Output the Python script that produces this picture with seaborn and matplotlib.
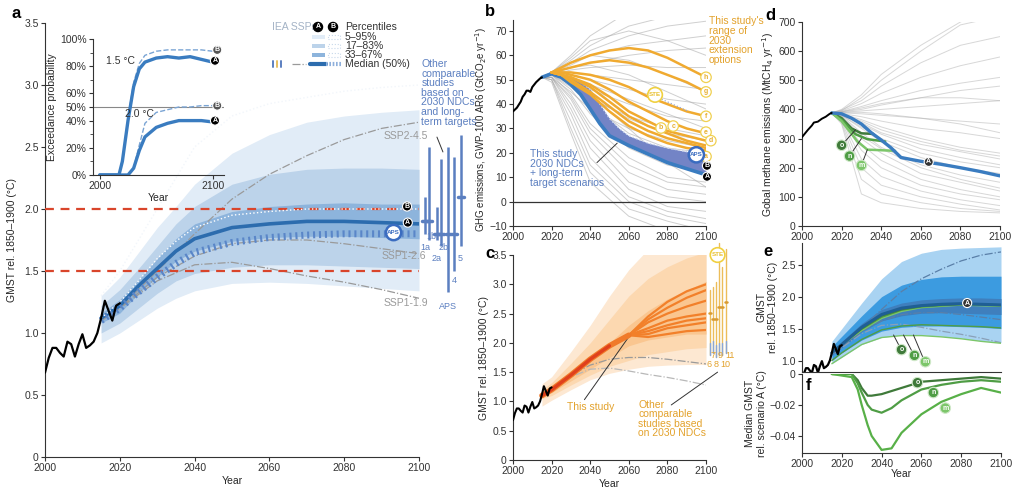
# -*- coding: utf-8 -*-
#%% Load dependencies
import pandas as pd
import numpy as np
import seaborn as sns
import matplotlib.pyplot as plt
from matplotlib.patches import Rectangle
from matplotlib.lines import Line2D

#%% data
histYears = list(range(2000, 2021))
histGMST = [0.68, 0.80, 0.88, 0.88, 0.84, 0.81, 0.93, 0.91, 0.81, 0.91, 0.99,
            0.88, 0.90, 0.93, 1.00, 1.12, 1.26, 1.18, 1.10, 1.22, 1.24]

# panel a, scenario A percentiles
aYears = [2015, 2020, 2025, 2030, 2035, 2040, 2050, 2060, 2070, 2080, 2090, 2100]
aP5 = [0.92, 1.00, 1.10, 1.20, 1.28, 1.34, 1.40, 1.41, 1.40, 1.38, 1.36, 1.34]
aP95 = [1.30, 1.45, 1.65, 1.85, 2.02, 2.20, 2.45, 2.60, 2.70, 2.75, 2.78, 2.80]
aP17 = [1.00, 1.08, 1.20, 1.32, 1.42, 1.48, 1.53, 1.55, 1.55, 1.54, 1.53, 1.52]
aP83 = [1.22, 1.35, 1.52, 1.70, 1.88, 2.02, 2.20, 2.28, 2.32, 2.33, 2.33, 2.32]
aP33 = [1.08, 1.16, 1.32, 1.45, 1.58, 1.66, 1.74, 1.77, 1.78, 1.78, 1.77, 1.76]
aP67 = [1.16, 1.27, 1.43, 1.60, 1.76, 1.88, 1.98, 2.02, 2.04, 2.05, 2.04, 2.04]
aP50 = [1.12, 1.22, 1.38, 1.52, 1.66, 1.76, 1.85, 1.88, 1.90, 1.90, 1.89, 1.88]
# scenario B (dotted outlines) and APS
aB67 = [1.12, 1.25, 1.42, 1.60, 1.74, 1.85, 1.95, 1.98, 2.00, 2.00, 2.00, 2.00]
aB95 = [1.30, 1.50, 1.75, 2.00, 2.25, 2.50, 2.75, 2.85, 2.90, 2.95, 2.98, 3.00]
aAPS = [1.10, 1.20, 1.33, 1.45, 1.56, 1.65, 1.73, 1.77, 1.79, 1.80, 1.80, 1.80]

sspYears = [2015, 2020, 2030, 2040, 2050, 2060, 2070, 2080, 2090, 2100]
ssp245 = [1.10, 1.20, 1.50, 1.80, 2.08, 2.28, 2.43, 2.56, 2.65, 2.70]
ssp126 = [1.10, 1.20, 1.45, 1.62, 1.72, 1.75, 1.75, 1.72, 1.68, 1.64]
ssp119 = [1.10, 1.20, 1.42, 1.55, 1.57, 1.52, 1.46, 1.41, 1.35, 1.28]

# other studies (panel a), top / bottom / marker
studyLabelsA = ['1a', '1b', '2a', '2b', 'APS', '4', '5']
studyTopA = [2.10, 2.50, 2.02, 2.40, 2.50, 2.42, 2.60]
studyBotA = [1.80, 1.75, 1.75, 1.70, 1.33, 1.50, 1.70]
studyMidA = [1.90, 1.90, 1.80, 1.80, 1.80, 1.80, 2.10]

# inset exceedance probability
inYears = [2000, 2017, 2020, 2025, 2030, 2035, 2040, 2050, 2060, 2070, 2080, 2090, 2100]
ex15A = [0, 0, 10, 40, 65, 78, 83, 86, 87, 86, 87, 85, 83]
ex15B = [0, 0, 11, 42, 68, 82, 88, 91, 92, 92, 92, 92, 91]
ex20A = [0, 0, 0, 0, 5, 18, 28, 35, 38, 40, 40, 40, 39]
ex20B = [0, 0, 0, 0, 5, 22, 38, 46, 48, 50, 50, 51, 51]

# panel b emissions (GtCO2e/yr)
bHistYears = [2000, 2002, 2004, 2005, 2006, 2007, 2008, 2009, 2010, 2012, 2014, 2015]
bHist = [37, 38.5, 41, 43, 44, 45.5, 45.5, 45, 47, 49, 50.5, 51]
greyYears = [2015, 2020, 2030, 2040, 2060, 2080, 2100]
bGrey = [[51, 53, 60, 68, 78, 85, 90], [51, 53, 58, 64, 72, 76, 78],
         [51, 53, 57, 62, 68, 72, 74], [51, 53, 56, 60, 64, 66, 68],
         [51, 53, 55, 57, 60, 62, 63], [51, 52, 54, 55, 56, 55, 55],
         [51, 52, 53, 52, 50, 48, 46], [51, 52, 52, 50, 46, 42, 40],
         [51, 52, 50, 46, 40, 35, 33], [51, 52, 49, 43, 34, 28, 25],
         [51, 52, 48, 40, 28, 22, 20], [51, 52, 46, 36, 22, 15, 12],
         [51, 52, 44, 32, 18, 10, 8], [51, 51, 42, 28, 12, 5, 3],
         [51, 51, 40, 25, 8, 2, 0], [51, 51, 38, 22, 5, -2, -4],
         [51, 50, 36, 18, 2, -4, -7], [51, 50, 33, 15, 0, -6, -9],
         [51, 50, 30, 12, -3, -8, -12], [51, 49, 28, 8, -6, -12, -15],
         [51, 51, 45, 38, 30, 25, 22], [51, 52, 47, 42, 35, 30, 27],
         [51, 52, 51, 48, 42, 36, 30], [51, 52, 55, 56, 52, 45, 38],
         [51, 53, 57, 60, 58, 52, 45], [51, 53, 59, 66, 70, 66, 60],
         [51, 52, 50, 44, 30, 16, 6], [51, 51, 43, 30, 15, 8, 6]]
bOrangeYears = [2020, 2025, 2030, 2040, 2050, 2060, 2070, 2080, 2090, 2100]
bOrange = {'h': [53, 55, 57, 60, 62, 63, 62, 59, 55, 51],
           'g': [53, 54, 55, 57, 58, 57, 55, 52, 49, 45],
           'f': [53, 53, 53, 52, 50, 47, 43, 40, 37, 35],
           'e': [53, 53, 52, 50, 46, 41, 37, 33, 30, 28],
           'd': [53, 52, 51, 48, 43, 37, 33, 29, 27, 25],
           'c': [53, 52, 51, 47, 41, 35, 31, 28, 25, 23],
           'b': [53, 52, 50, 45, 39, 33, 29, 26, 24, 22],
           'a': [53, 52, 49, 44, 37, 31, 27, 24, 22, 21]}
bBlueYears = [2015, 2020, 2025, 2030, 2035, 2040, 2045, 2050, 2055, 2060, 2070, 2080, 2090, 2100]
bA = [51, 52.5, 51, 48, 44, 38, 32, 27, 25, 23, 19.5, 16, 13.5, 11]
bB = [51, 52.5, 52, 51, 49, 46, 40, 34, 30, 27, 24, 22, 20.5, 19.5]

# panel c warming fan
cYears = [2015, 2020, 2030, 2040, 2050, 2060, 2070, 2080, 2090, 2100]
cP5 = [0.92, 1.02, 1.20, 1.37, 1.48, 1.55, 1.60, 1.62, 1.63, 1.63]
cP95 = [1.30, 1.42, 1.85, 2.30, 2.80, 3.25, 3.60, 3.80, 4.00, 4.10]
cP17 = [1.05, 1.10, 1.28, 1.45, 1.60, 1.70, 1.80, 1.85, 1.90, 1.92]
cP83 = [1.20, 1.32, 1.65, 2.00, 2.40, 2.80, 3.10, 3.30, 3.45, 3.55]
cP33 = [1.10, 1.15, 1.35, 1.55, 1.75, 1.95, 2.05, 2.10, 2.15, 2.15]
cP67 = [1.15, 1.25, 1.50, 1.75, 2.00, 2.30, 2.55, 2.75, 2.90, 3.05]
cTrunkYears = [2015, 2020, 2030, 2040, 2050, 2060]
cTrunk = [1.10, 1.20, 1.45, 1.72, 1.95, 2.13]
cTailYears = [2070, 2080, 2090, 2100]
cTails = [[2.45, 2.70, 2.88, 3.00], [2.40, 2.60, 2.77, 2.90],
          [2.35, 2.50, 2.62, 2.72], [2.25, 2.38, 2.45, 2.50],
          [2.20, 2.30, 2.38, 2.42], [2.15, 2.25, 2.30, 2.35],
          [2.10, 2.15, 2.20, 2.22]]
studyLabelsC = ['6', '7', '8', '9', '10', '11']
studyTopC = [2.90, 2.95, 3.04, 3.70, 3.30, 3.60]
studyBotC = [1.79, 1.83, 1.76, 1.79, 1.79, 1.83]
studyMidC = [2.51, 2.41, 2.41, 2.61, 2.61, 2.70]

# panel d methane (MtCH4/yr)
dHistYears = [2000, 2003, 2005, 2006, 2008, 2010, 2012, 2014, 2015]
dHist = [305, 330, 345, 355, 358, 368, 375, 385, 388]
dGrey = [[388, 400, 450, 520, 620, 700, 760], [388, 398, 430, 480, 560, 620, 650],
         [388, 395, 420, 455, 510, 550, 580], [388, 393, 410, 430, 465, 490, 510],
         [388, 392, 400, 415, 440, 465, 480], [388, 390, 395, 400, 410, 420, 430],
         [388, 388, 385, 380, 370, 360, 350], [388, 386, 375, 360, 335, 320, 300],
         [388, 385, 365, 340, 300, 270, 250], [388, 383, 350, 315, 265, 235, 210],
         [388, 380, 335, 290, 235, 200, 180], [388, 378, 320, 270, 210, 175, 150],
         [388, 375, 300, 250, 180, 150, 120], [388, 372, 280, 225, 160, 125, 100],
         [388, 370, 260, 200, 140, 110, 90], [388, 365, 230, 170, 120, 90, 70],
         [388, 360, 200, 140, 100, 75, 55], [388, 355, 160, 110, 80, 60, 50],
         [388, 350, 110, 80, 60, 50, 45], [388, 390, 390, 385, 370, 350, 320],
         [388, 392, 405, 420, 440, 440, 430], [388, 385, 360, 330, 290, 260, 240],
         [388, 380, 340, 300, 250, 220, 200], [388, 396, 440, 500, 600, 690, 720],
         [388, 384, 355, 320, 280, 255, 230], [388, 376, 310, 265, 200, 160, 130]]
dBlueYears = [2015, 2020, 2025, 2030, 2035, 2040, 2045, 2050, 2060, 2070, 2080, 2090, 2100]
dBlue = [388, 385, 370, 350, 320, 295, 268, 235, 222, 212, 200, 187, 172]
dGreenYears = {'o': [2015, 2020, 2025, 2030, 2036],
               'n': [2015, 2020, 2027, 2033, 2042],
               'm': [2015, 2020, 2028, 2033, 2047]}
dGreen = {'o': [388, 370, 335, 318, 316],
          'n': [388, 365, 315, 298, 290],
          'm': [388, 360, 290, 262, 258]}

# panel e / f
eYears = [2015, 2020, 2030, 2040, 2050, 2060, 2070, 2080, 2090, 2100]
eP5 = [0.95, 1.05, 1.25, 1.36, 1.40, 1.40, 1.38, 1.35, 1.31, 1.28]
eP95 = [1.30, 1.50, 1.90, 2.28, 2.55, 2.68, 2.74, 2.76, 2.77, 2.78]
eP17 = [1.00, 1.12, 1.32, 1.46, 1.52, 1.54, 1.54, 1.53, 1.52, 1.50]
eP83 = [1.22, 1.38, 1.70, 2.00, 2.18, 2.27, 2.31, 2.32, 2.32, 2.32]
eP33 = [1.08, 1.20, 1.45, 1.62, 1.70, 1.74, 1.75, 1.74, 1.73, 1.72]
eP67 = [1.16, 1.30, 1.58, 1.80, 1.90, 1.95, 1.97, 1.98, 1.98, 1.97]
eP50 = [1.12, 1.25, 1.52, 1.72, 1.82, 1.86, 1.88, 1.89, 1.88, 1.87]
eGreen = {'o': [1.12, 1.25, 1.50, 1.70, 1.80, 1.85, 1.87, 1.88, 1.88, 1.87],
          'n': [1.12, 1.25, 1.49, 1.68, 1.79, 1.84, 1.86, 1.88, 1.87, 1.86],
          'm': [1.12, 1.25, 1.47, 1.66, 1.77, 1.83, 1.85, 1.87, 1.86, 1.85]}
eGreenLow = [0.95, 1.05, 1.25, 1.36, 1.39, 1.39, 1.37, 1.34, 1.30, 1.27]
eGreenP17 = [1.00, 1.12, 1.33, 1.48, 1.54, 1.56, 1.55, 1.54, 1.53, 1.51]

fYears = [2015, 2025, 2028, 2030, 2033, 2035, 2040, 2045, 2050, 2060, 2070, 2080, 2090, 2100]
fO = [0, 0, -0.004, -0.009, -0.014, -0.014, -0.013, -0.011, -0.009, -0.005, -0.004, -0.003, -0.002, -0.003]
fN = [0, 0, -0.006, -0.012, -0.020, -0.023, -0.025, -0.022, -0.017, -0.010, -0.007, -0.005, -0.004, -0.005]
fM = [0, -0.002, -0.010, -0.020, -0.033, -0.040, -0.049, -0.048, -0.038, -0.026, -0.018, -0.013, -0.009, -0.012]

#%% Plot settings
sns.set_style('ticks')
plt.rcParams['font.family'] = ['Liberation Sans', 'DejaVu Sans']
plt.rcParams['axes.edgecolor'] = '#333333'
plt.rcParams['xtick.color'] = '#333333'
plt.rcParams['ytick.color'] = '#333333'
fs = 7.5

blueBand = ['#e1ecf7', '#bcd3ea', '#8db4dc']
blueMed = '#2c6cae'
studyBlue = '#5b7fc0'
orange = '#f0aa30'
orangeTxt = '#e3a22c'
greens = {'o': '#3f7a3a', 'n': '#4f9d45', 'm': '#7cc66a'}
greyLine = '#9a9a9a'

fig = plt.figure(figsize=(10.24, 4.88), dpi=100)


def pos(l, t, r, b):
    return [l / 1024, 1 - b / 488, (r - l) / 1024, (b - t) / 488]


def line(ax, x, y, **kw):
    sns.lineplot(x=x, y=y, ax=ax, legend=False, errorbar=None, sort=False, **kw)


def spaghetti(ax, years, runs, color, lw=0.6, alpha=0.5):
    df = pd.DataFrame([(i, yr, v) for i, r in enumerate(runs) for yr, v in zip(years, r)],
                      columns=['run', 'year', 'val'])
    sns.lineplot(data=df, x='year', y='val', units='run', estimator=None, color=color,
                 lw=lw, alpha=alpha, ax=ax, legend=False)


def circ(ax, x, y, s, fc='black', ec='white', tc='white', size=5, pad=0.15, lw=0.8, z=12):
    ax.text(x, y, s, ha='center', va='center', fontsize=size, color=tc, fontweight='bold',
            bbox=dict(boxstyle='circle,pad=%s' % pad, fc=fc, ec=ec, lw=lw), clip_on=False, zorder=z)


def style(ax):
    ax.tick_params(labelsize=fs, length=3, width=0.8, pad=1.5)
    for s in ['top', 'right']:
        ax.spines[s].set_visible(False)
    ax.set_xlabel('')
    ax.set_ylabel('')


#%% panel a
axa = fig.add_axes(pos(45, 23, 419, 457))
axa.fill_between(aYears, aP5, aP95, color=blueBand[0], lw=0)
axa.fill_between(aYears, aP17, aP83, color=blueBand[1], lw=0)
axa.fill_between(aYears, aP33, aP67, color=blueBand[2], lw=0)
line(axa, aYears, aB95, color='#f2f6fb', lw=1, linestyle=':')
line(axa, sspYears, ssp245, color=greyLine, lw=0.9, linestyle='-.')
line(axa, sspYears, ssp126, color=greyLine, lw=0.9, linestyle='-.')
line(axa, sspYears, ssp119, color=greyLine, lw=0.9, linestyle='-.')
axa.axhline(2.0, color='#d9452b', lw=1.6, ls=(0, (4, 3)), zorder=4)
axa.axhline(1.5, color='#d9452b', lw=1.6, ls=(0, (4, 3)), zorder=4)
line(axa, aYears, aP50, color=blueMed, lw=2.6, zorder=5)
line(axa, aYears, aAPS, color='#5a86c8', lw=5, linestyle=(0, (0.3, 0.55)), zorder=5)
line(axa, aYears, aB67, color='white', lw=1, linestyle=':', zorder=6)
line(axa, histYears, histGMST, color='black', lw=1.6, zorder=7)

# other studies bars to the right
barXA = [2101.6, 2102.7, 2104.8, 2105.9, 2107.8, 2109.4, 2111.2]
for xb, t, bt, m in zip(barXA, studyTopA, studyBotA, studyMidA):
    axa.plot([xb, xb], [bt, t], color=studyBlue, lw=1.8, clip_on=False, solid_capstyle='butt')
    axa.plot([xb - 0.7, xb + 0.7], [m, m], color=studyBlue, lw=2.5, clip_on=False)
labPosA = [(2101.8, 1.69), (2103.3, 1.78), (2104.6, 1.60), (2106.5, 1.69), (2107.8, 1.21), (2109.4, 1.42), (2111.0, 1.60)]
for lab, (xl, yl) in zip(studyLabelsA, labPosA):
    axa.text(xl, yl, lab, fontsize=6.5, color=studyBlue, ha='center', va='center', clip_on=False)
axa.text(2100.6, 3.21, 'Other\ncomparable\nstudies\nbased on\n2030 NDCs\nand long-\nterm targets', fontsize=fs,
         color=studyBlue, ha='left', va='top', linespacing=0.95)
axa.plot([2104.8, 2106.4], [2.58, 2.46], color='#333333', lw=0.7, clip_on=False)

axa.text(2102.4, 2.59, 'SSP2-4.5', fontsize=fs, color=greyLine, ha='right', va='center')
axa.text(2102.0, 1.62, 'SSP1-2.6', fontsize=fs, color=greyLine, ha='right', va='center')
axa.text(2102.4, 1.24, 'SSP1-1.9', fontsize=fs, color=greyLine, ha='right', va='center')
circ(axa, 2096.8, 2.02, 'B')
circ(axa, 2097.0, 1.89, 'A')
circ(axa, 2093.2, 1.81, 'APS', fc='white', ec='#3a6cc0', tc='#3a6cc0', size=4.5, pad=0.2, lw=1.8)

axa.set_xlim(2000, 2100)
axa.set_ylim(0, 3.5)
axa.set_xticks(range(2000, 2101, 20))
axa.set_yticks([0, 0.5, 1.0, 1.5, 2.0, 2.5, 3.0, 3.5])
axa.set_yticklabels(['0', '0.5', '1.0', '1.5', '2.0', '2.5', '3.0', '3.5'])
style(axa)
axa.set_xlabel('Year', fontsize=fs, labelpad=2)
axa.set_ylabel('GMST rel. 1850\u20131900 (\u00b0C)', fontsize=fs)
axa.yaxis.set_label_coords(-0.075, 0.5)

#%% inset
axi = fig.add_axes(pos(93, 39, 224, 175))
axi.patch.set_alpha(0)
axi.axhline(50, color='#888888', lw=0.8, xmin=-0.0, xmax=1)
line(axi, inYears, ex15B, color='#7aa4d4', lw=1, linestyle='--')
line(axi, inYears, ex20B, color='#7aa4d4', lw=1, linestyle='--')
line(axi, inYears, ex15A, color='#3a7cc0', lw=2.4)
line(axi, inYears, ex20A, color='#3a7cc0', lw=2.4)
axi.text(2031, 84, '1.5 \u00b0C', fontsize=fs, color='#333333', ha='right', va='center')
axi.text(2035, 45, '2.0 \u00b0C', fontsize=fs, color='#333333', ha='center', va='center')
circ(axi, 2104, 92, 'B', fc='#555555')
circ(axi, 2102, 84, 'A')
circ(axi, 2104, 51, 'B', fc='#555555')
circ(axi, 2102, 40, 'A')
axi.set_xlim(1994, 2110)
axi.set_ylim(0, 100)
axi.set_xticks([2000, 2100])
axi.set_yticks([0, 20, 40, 50, 60, 80, 100])
axi.set_yticklabels(['0%', '20%', '40%', '50%', '60%', '80%', '100%'])
axi.set_yticks([10, 30, 70, 90], minor=True)
style(axi)
axi.tick_params(which='minor', length=2)
axi.set_xlabel('Year', fontsize=fs, labelpad=1)
axi.set_ylabel('Exceedance probability', fontsize=fs, labelpad=2)

#%% legend of panel a (figure coordinates)
def fx(x):
    return x / 1024


def fy(y):
    return 1 - y / 488


fig.text(fx(272), fy(27), 'IEA SSPs', fontsize=fs, color='#a4b3c6', va='center')
fig.text(fx(318), fy(27), 'A', fontsize=5, color='white', fontweight='bold', ha='center', va='center',
         bbox=dict(boxstyle='circle,pad=0.15', fc='black', ec='black'))
fig.text(fx(333), fy(27), 'B', fontsize=5, color='white', fontweight='bold', ha='center', va='center',
         bbox=dict(boxstyle='circle,pad=0.15', fc='black', ec='black'))
fig.text(fx(345), fy(27), 'Percentiles', fontsize=fs, color='#333333', va='center')
for yy, lab, c in zip([37, 46, 55], ['5\u201395%', '17\u201383%', '33\u201367%'], blueBand):
    fig.add_artist(Rectangle((fx(312), fy(yy + 2)), fx(13), 4 / 488, transform=fig.transFigure, fc=c, ec='none'))
    fig.add_artist(Rectangle((fx(328), fy(yy + 2)), fx(12), 4 / 488, transform=fig.transFigure, fc='none',
                             ec='#c8d8ea', ls=':', lw=0.8))
    fig.text(fx(345), fy(yy), lab, fontsize=fs, color='#333333', va='center')
fig.text(fx(345), fy(64), 'Median (50%)', fontsize=fs, color='#333333', va='center')
fig.add_artist(Line2D([fx(310), fx(326)], [fy(64), fy(64)], transform=fig.transFigure, color=blueMed, lw=3))
fig.add_artist(Line2D([fx(326), fx(341)], [fy(64), fy(64)], transform=fig.transFigure, color='#8fb0dc', lw=3,
                      ls=(0, (0.4, 0.4))))
fig.add_artist(Line2D([fx(292), fx(306)], [fy(64), fy(64)], transform=fig.transFigure, color=greyLine, lw=0.9,
                      ls='-.'))
for xx, c in zip([273, 277, 281], [studyBlue, '#e8c060', studyBlue]):
    fig.add_artist(Line2D([fx(xx), fx(xx)], [fy(61), fy(67)], transform=fig.transFigure, color=c, lw=1.4))

#%% panel b
axb = fig.add_axes(pos(513, 20, 706, 226))
spaghetti(axb, greyYears, bGrey, '#a8a8a8', lw=0.7, alpha=0.55)
axb.axhline(0, color='#333333', lw=0.9)
axb.fill_between(bBlueYears, bA, bB, color='#7384c6', lw=0, zorder=3)
line(axb, bBlueYears, bB, color='#c9d6ee', lw=1, linestyle=':', zorder=4)
line(axb, bBlueYears, bA, color='#3a7cc0', lw=2.6, zorder=4)
for k in bOrange:
    line(axb, bOrangeYears, bOrange[k], color=orange, lw=1.8, zorder=5)
line(axb, bHistYears, bHist, color='black', lw=1.5, zorder=6)
axb.plot([2077, 2091], [42, 37], color='#9aa8d0', lw=0.9, ls=':', zorder=6)
circ(axb, 2073.6, 43.8, 'STE', fc='white', ec='#f0d040', tc='#e8c030', size=4.5, pad=0.2, lw=1.2)
bLabPos = {'h': (2100, 51), 'g': (2100, 45), 'f': (2100, 35), 'e': (2100, 28.5), 'd': (2102.5, 25),
           'a': (2100, 18.5), 'b': (2076.7, 30.2), 'c': (2083, 31)}
for k, (xl, yl) in bLabPos.items():
    circ(axb, xl, yl, k, fc='white', ec='#f0d050', tc='#e8b030', size=5, pad=0.25, lw=0.9)
circ(axb, 2095, 19.2, 'APS', fc='white', ec='#3a6cc0', tc='#3a6cc0', size=4.5, pad=0.2, lw=1.8)
circ(axb, 2100.5, 14.7, 'B')
circ(axb, 2100.5, 10.2, 'A')
axb.text(2009, 21.5, 'This study\n2030 NDCs\n+ long-term\ntarget scenarios', fontsize=fs, color=studyBlue,
         va='top', ha='left', linespacing=0.95)
axb.plot([2043.5, 2054], [16, 24], color='#333333', lw=0.7)
axb.text(2101.5, 76, "This study's\nrange of\n2030\nextension\noptions", fontsize=fs, color=orangeTxt,
         va='top', ha='left', linespacing=0.95, clip_on=False)
axb.set_xlim(2000, 2100)
axb.set_ylim(-10, 74.5)
axb.set_xticks(range(2000, 2101, 20))
axb.set_yticks(range(-10, 71, 10))
style(axb)
axb.set_ylabel('GHG emissions, GWP-100 AR6 (GtCO$_2$e yr$^{-1}$)', fontsize=7)
axb.yaxis.set_label_coords(-0.125, 0.47)

#%% panel c
axc = fig.add_axes(pos(513, 255, 706, 460))
axc.fill_between(cYears, cP5, cP95, color='#fde8d2', lw=0)
axc.fill_between(cYears, cP17, cP83, color='#fcd8b0', lw=0)
axc.fill_between(cYears, cP33, cP67, color='#fac690', lw=0)
line(axc, sspYears, ssp126, color=greyLine, lw=0.9, linestyle='-.')
line(axc, sspYears, ssp119, color='#b8b8b8', lw=0.9, linestyle='-.')
for tail in cTails:
    line(axc, cTrunkYears[-1:] + cTailYears, cTrunk[-1:] + tail, color='#f2802a', lw=1.6, zorder=4)
line(axc, cTrunkYears, cTrunk, color='#f07a2a', lw=4, zorder=4)
line(axc, cTrunkYears[:-1], cTrunk[:-1], color='#e0401c', lw=2.4, zorder=5)
line(axc, histYears, histGMST, color='black', lw=1.5, zorder=6)
barXC = [2102.0, 2103.6, 2105.2, 2106.7, 2108.3, 2110.4]
for xb, t, bt, m in zip(barXC, studyTopC, studyBotC, studyMidC):
    axc.plot([xb, xb], [bt, t], color='#ecbd5a', lw=1.0, clip_on=False)
    axc.plot([xb, xb], [bt, bt + 0.2], color='#8aa6d6', lw=1.0, clip_on=False)
    axc.plot([xb - 0.6, xb + 0.6], [m, m], color='#d89a30', lw=1.8, clip_on=False)
labPosC = [(2101.6, 1.63), (2103.5, 1.78), (2105.3, 1.63), (2107.3, 1.78), (2110.1, 1.63), (2112.4, 1.78)]
for lab, (xl, yl) in zip(studyLabelsC, labPosC):
    axc.text(xl, yl, lab, fontsize=6.5, color=orangeTxt, ha='center', va='center', clip_on=False)
circ(axc, 2106.0, 3.5, 'STE', fc='white', ec='#f0d040', tc='#e8c030', size=4.5, pad=0.2, lw=1.2)
axc.text(2040, 0.91, 'This study', fontsize=fs, color=orangeTxt, ha='center', va='center')
axc.plot([2037, 2061], [1.03, 2.15], color='#333333', lw=0.7)
axc.text(2065, 1.03, 'Other\ncomparable\nstudies based\non 2030 NDCs', fontsize=fs, color=orangeTxt,
         ha='left', va='top', linespacing=0.95)
axc.plot([2082, 2106], [0.94, 1.5], color='#333333', lw=0.7, clip_on=False)
axc.set_xlim(2000, 2100)
axc.set_ylim(0, 3.5)
axc.set_xticks(range(2000, 2101, 20))
axc.set_yticks([0, 0.5, 1.0, 1.5, 2.0, 2.5, 3.0, 3.5])
axc.set_yticklabels(['0', '0.5', '1.0', '1.5', '2.0', '2.5', '3.0', '3.5'])
style(axc)
axc.set_xlabel('Year', fontsize=fs, labelpad=2)
axc.set_ylabel('GMST rel. 1850\u20131900 (\u00b0C)', fontsize=fs, labelpad=2)

#%% panel d
axd = fig.add_axes(pos(802, 22, 1000, 226))
spaghetti(axd, greyYears, dGrey, '#b0b0b0', lw=0.7, alpha=0.5)
for k in ['o', 'n', 'm']:
    line(axd, dGreenYears[k], dGreen[k], color=greens[k], lw=1.8, zorder=4)
line(axd, dBlueYears, dBlue, color='#3a7cc0', lw=2.4, zorder=5)
line(axd, dHistYears, dHist, color='black', lw=1.4, zorder=6)
for k, (xc, yc), (x2, y2) in zip(['o', 'n', 'm'], [(2020, 277), (2024, 240), (2030, 208)],
                                 [(2027, 330), (2030, 300), (2033, 262)]):
    axd.plot([xc, x2], [yc, y2], color='#333333', lw=0.7, zorder=7)
    circ(axd, xc, yc, k, fc=greens[k], ec='#cfe8c8', tc='white', size=5, pad=0.25)
circ(axd, 2064, 220, 'A', fc='#333333')
axd.set_xlim(2000, 2100)
axd.set_ylim(0, 700)
axd.set_xticks(range(2000, 2101, 20))
axd.set_yticks(range(0, 701, 100))
style(axd)
axd.set_ylabel('Gobal methane emissions (MtCH$_4$ yr$^{-1}$)', fontsize=fs, labelpad=2)

#%% panel e
axe = fig.add_axes(pos(802, 243, 1001, 372))
axe.fill_between(eYears, eP5, eP95, color='#a9d3f2', lw=0)
axe.fill_between(eYears, eP17, eP83, color='#3c9be0', lw=0)
axe.fill_between(eYears, eP33, eP67, color='#3f7fbd', lw=0)
line(axe, sspYears, ssp245, color='#5a7fa8', lw=0.9, linestyle='-.')
line(axe, sspYears, ssp126, color='#5a7fa8', lw=0.9, linestyle='-.')
line(axe, sspYears, ssp119, color='#8aa0b8', lw=0.9, linestyle='-.')
line(axe, eYears, eGreenLow, color=greens['m'], lw=1)
line(axe, eYears, eGreenP17, color=greens['n'], lw=1)
for k in ['m', 'n', 'o']:
    line(axe, eYears, eGreen[k], color=greens[k], lw=1.2)
line(axe, eYears, eP50, color='#1f5f95', lw=2.2)
line(axe, histYears, histGMST, color='black', lw=1.6, zorder=6)
for k, (xc, yc), (x2, y2) in zip(['o', 'n', 'm'], [(2050, 1.17), (2056.5, 1.08), (2062, 0.98)],
                                 [(2046, 1.40), (2051, 1.40), (2056, 1.40)]):
    axe.plot([xc - 1, x2], [yc + 0.05, y2], color='#333333', lw=0.7, zorder=7)
    circ(axe, xc, yc, k, fc=greens[k], ec='#cfe8c8', tc='white', size=5, pad=0.25)
circ(axe, 2083, 1.9, 'A', fc='#333333')
axe.set_xlim(2000, 2100)
axe.set_ylim(0.82, 2.84)
axe.set_xticks(range(2000, 2101, 20))
axe.set_xticklabels([])
axe.set_yticks([1.0, 1.5, 2.0, 2.5])
style(axe)
axe.tick_params(axis='x', length=0)
axe.set_ylabel('GMST\nrel. 1850\u20131900 (\u00b0C)', fontsize=fs, labelpad=2)

#%% panel f
axf = fig.add_axes(pos(802, 374, 1001, 453))
line(axf, fYears, fO, color=greens['o'], lw=1.6)
line(axf, fYears, fN, color=greens['n'], lw=1.6)
line(axf, fYears, fM, color='#58b048', lw=1.6)
circ(axf, 2058, -0.0056, 'o', fc=greens['o'], ec='#cfe8c8', tc='white', size=5, pad=0.25)
circ(axf, 2066, -0.012, 'n', fc=greens['n'], ec='#cfe8c8', tc='white', size=5, pad=0.25)
circ(axf, 2072, -0.022, 'm', fc=greens['m'], ec='#cfe8c8', tc='white', size=5, pad=0.25)
axf.set_xlim(2000, 2100)
axf.set_ylim(-0.051, 0.0)
axf.set_xticks(range(2000, 2101, 20))
axf.set_yticks([0, -0.02, -0.04])
axf.set_yticklabels(['0', '\u22120.02', '\u22120.04'])
style(axf)
axf.set_xlabel('Year', fontsize=fs, labelpad=0)
axf.set_ylabel('Median GMST\nrel. scenario A (\u00b0C)', fontsize=fs, labelpad=2)

#%% panel letters
for lab, x, y in [('a', 12, 13), ('b', 485, 12), ('c', 485, 253), ('d', 765, 15), ('e', 763, 252), ('f', 806, 386)]:
    fig.text(fx(x), fy(y), lab, fontsize=12, fontweight='bold', va='center', ha='left', color='black')

fig.savefig('out.png', dpi=100)
plt.close()
